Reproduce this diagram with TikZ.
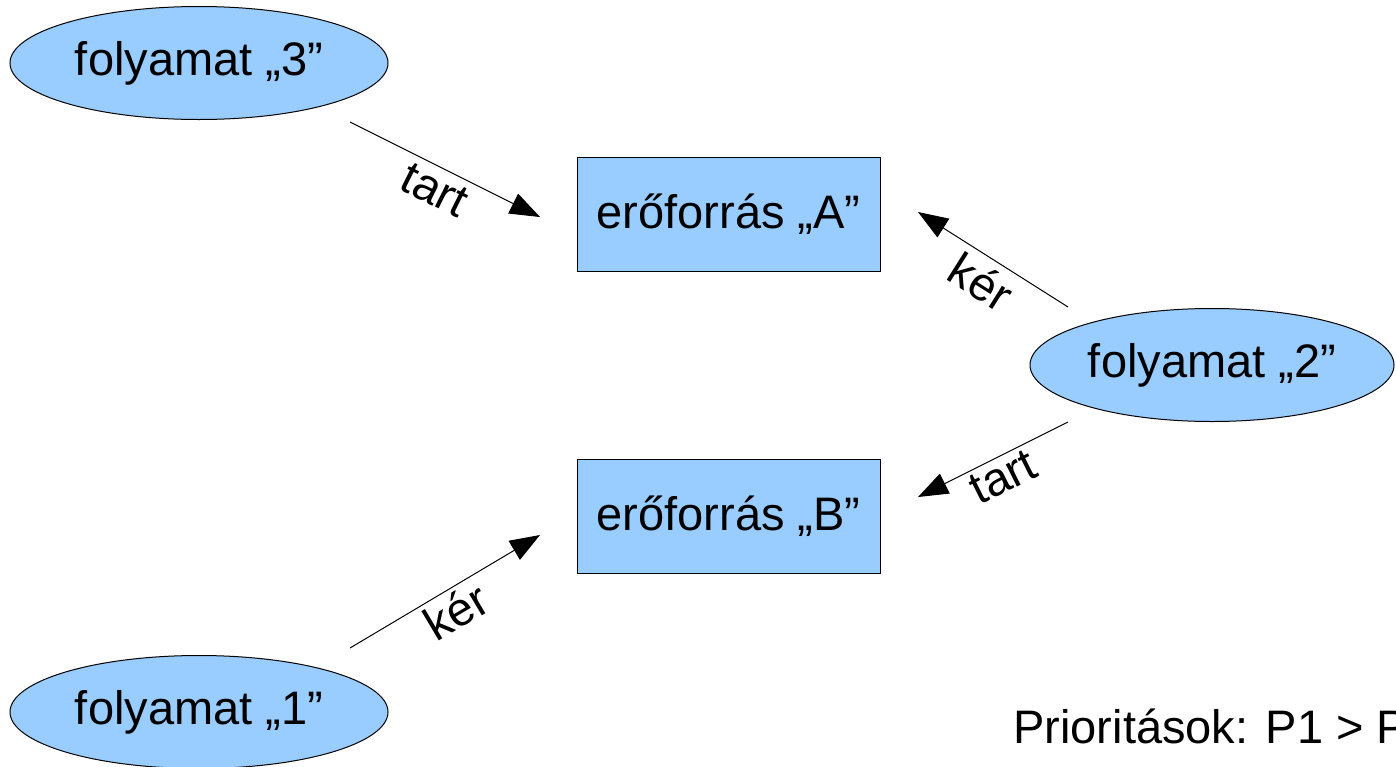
\documentclass[tikz,border=0pt]{standalone}
\usepackage{fontspec}
\setmainfont{Liberation Sans}
\usetikzlibrary{shapes.geometric,arrows.meta}
\definecolor{nodeblue}{HTML}{99CCFF}
\tikzset{
  proc/.style={ellipse, draw=black, fill=nodeblue, line width=0.5pt, inner sep=0pt,
    minimum width=189pt, minimum height=56.5pt, font=\fontsize{23.5}{28}\selectfont},
  res/.style={rectangle, draw=black, fill=nodeblue, line width=0.5pt, inner sep=0pt,
    minimum width=151.5pt, minimum height=57pt, font=\fontsize{23.5}{28}\selectfont},
  conn/.style={line width=0.5pt, -{Triangle[length=15pt,width=11pt]}},
  lbl/.style={inner sep=0pt, font=\fontsize{23.5}{28}\selectfont},
}
\begin{document}
\begin{tikzpicture}[x=0.5pt,y=-0.5pt]
\path[use as bounding box] (0,0) rectangle (1396,766);
\clip (0,0) rectangle (1396,766);
\node[proc] (p3) at (199,63) {folyamat „3”};
\node[proc, minimum width=182pt] (p2) at (1212,365) {folyamat „2”};
\node[proc] (p1) at (199,712) {folyamat „1”};
\node[res] (ra) at (728.5,214) {erőforrás „A”};
\node[res] (rb) at (728.5,516.5) {erőforrás „B”};
\coordinate (c3s) at (350,122);
\coordinate (c3e) at (540,217);
\coordinate (c2as) at (1068,307);
\coordinate (c2ae) at (918,212);
\coordinate (c2bs) at (1068,422);
\coordinate (c2be) at (918,497);
\coordinate (c1s) at (350,648);
\coordinate (c1e) at (540,535);
\draw[conn] (c3s) -- (c3e);
\draw[conn] (c2as) -- (c2ae);
\draw[conn] (c2bs) -- (c2be);
\draw[conn] (c1s) -- (c1e);
\node[lbl, rotate=-26.6] (l1) at (435,190) {tart};
\node[lbl, rotate=-32.3] (l2) at (981,282) {kér};
\node[lbl, rotate=26.6] (l3) at (1003,477) {tart};
\node[lbl, rotate=30.7] (l4) at (456,611) {kér};
\node[lbl, anchor=base west] (prio) at (1013,743) {Prioritások: P1 > P2 > P3};
\end{tikzpicture}
\end{document}
